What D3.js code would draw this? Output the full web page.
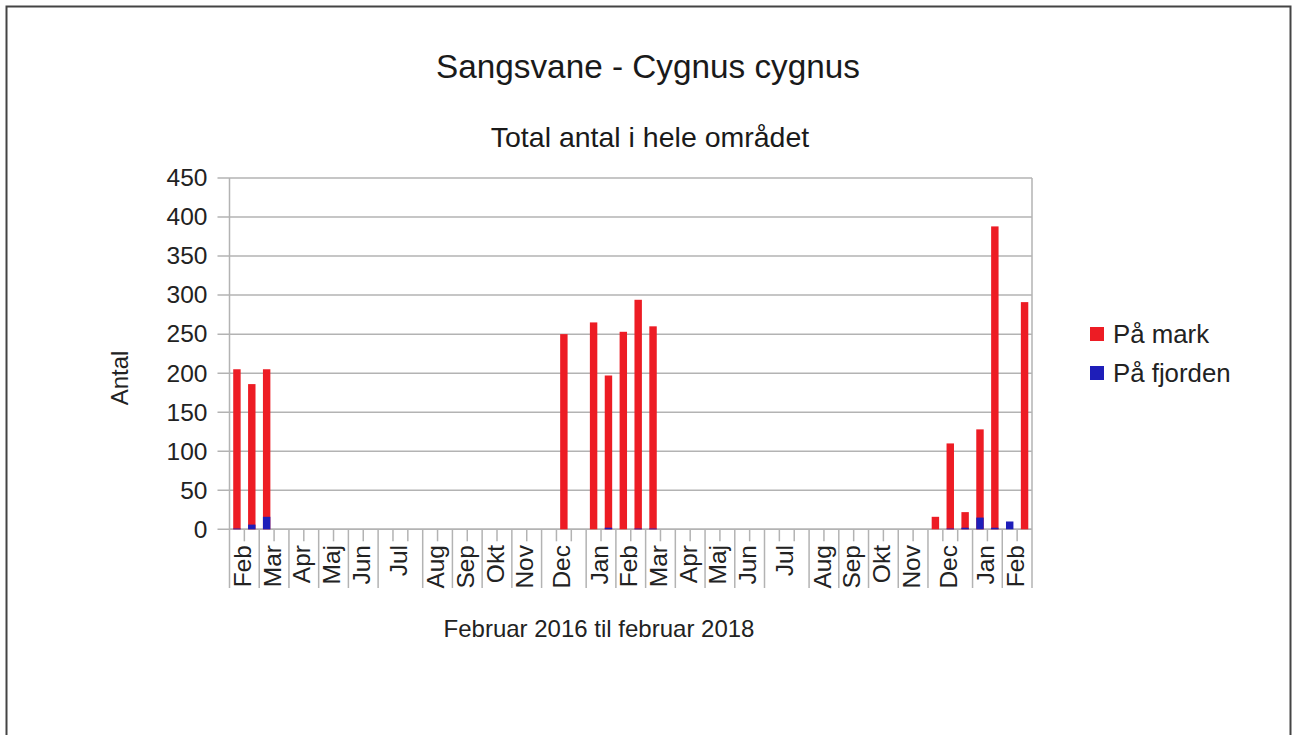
<!DOCTYPE html>
<html>
<head>
<meta charset="utf-8">
<script src="https://cdn.jsdelivr.net/npm/d3@7"></script>
<style>
  body { margin: 0; background: #fff; }
  svg { display: block; font-family: "Liberation Sans", Arial, sans-serif; }
</style>
</head>
<body>
<div id="chart"></div>
<script>
// month groups on the category axis and how many counts fall in each
const months = ["Feb", "Mar", "Apr", "Maj", "Jun", "Jul", "Aug", "Sep", "Okt", "Nov", "Dec", "Jan",
    "Feb", "Mar", "Apr", "Maj", "Jun", "Jul", "Aug", "Sep", "Okt", "Nov", "Dec", "Jan", "Feb"];
const countsPerMonth = [2, 2, 2, 2, 2, 3, 2, 2, 2, 2, 3, 2, 2, 2, 2, 2, 2, 3, 2, 2, 2, 2, 3, 2, 2];

// one value per count, in the same order
const paaMark = [205, 186, 205, 0, 0, 0, 0, 0, 0, 0, 0, 0, 0, 0, 0, 0, 0, 0, 0, 0, 0,
    0, 250, 0, 265, 197, 253, 294, 260, 0, 0, 0, 0, 0, 0, 0, 0, 0, 0, 0, 0, 0, 0, 0, 0, 0, 0,
    16, 110, 22, 128, 388, 0, 291];
const paaFjorden = [1, 6, 16, 0, 0, 0, 0, 0, 0, 0, 0, 0, 0, 0, 0, 0, 0, 0, 0, 0, 0,
    0, 0, 0, 0, 2, 0, 1, 1, 0, 0, 0, 0, 0, 0, 0, 0, 0, 0, 0, 0, 0, 0, 0, 0, 0, 0,
    0, 1, 2, 15, 2, 10, 0];

const yTicks = [0, 50, 100, 150, 200, 250, 300, 350, 400, 450];
const seriesNames = ["På mark", "På fjorden"];
const seriesColors = ["#ed1c24", "#1e1eb9"];

const width = 1292, height = 735;
const plot = { left: 229.5, right: 1032, top: 178, bottom: 529.3 };
const gridColor = "#b3b3b3";
const textColor = "#222";

const svg = d3.select("#chart").append("svg")
    .attr("width", width)
    .attr("height", height);

// page frame
svg.append("rect")
    .attr("x", 6.5).attr("y", 6.5)
    .attr("width", 1284).attr("height", 740)
    .attr("fill", "none")
    .attr("stroke", "#444")
    .attr("stroke-width", 2);

const idx = d3.range(paaMark.length);
const x = d3.scaleBand().domain(idx).range([plot.left, plot.right]).padding(0);
const y = d3.scaleLinear().domain([0, 450]).range([plot.bottom, plot.top]);

// horizontal grid
svg.append("g")
    .selectAll("line")
    .data(yTicks)
    .join("line")
    .attr("x1", plot.left - 12)
    .attr("x2", plot.right)
    .attr("y1", d => y(d))
    .attr("y2", d => y(d))
    .attr("stroke", gridColor)
    .attr("stroke-width", 1.5);

// y axis labels
const yAxis = d3.axisLeft(y).tickValues(yTicks).tickSize(0).tickPadding(22);
const gy = svg.append("g")
    .attr("transform", `translate(${plot.left},0)`)
    .call(yAxis);
gy.select(".domain").remove();
gy.selectAll("text")
    .attr("fill", textColor)
    .attr("font-size", 24.5)
    .attr("font-family", "Liberation Sans, Arial, sans-serif");

// month groups
let start = 0;
const groups = months.map((m, i) => {
    const g = { label: m, first: start, last: start + countsPerMonth[i] - 1 };
    start += countsPerMonth[i];
    return g;
});

// left and right plot edges + group separators reaching down through the labels
const sepX = [x(0)].concat(groups.map(g => x(g.last) + x.bandwidth()));
svg.append("g")
    .selectAll("line")
    .data(sepX)
    .join("line")
    .attr("x1", d => d).attr("x2", d => d)
    .attr("y1", (d, i) => (i === 0 || i === sepX.length - 1) ? plot.top : plot.bottom)
    .attr("y2", 588)
    .attr("stroke", gridColor)
    .attr("stroke-width", 1.5);

// short ticks between counts inside a month
const innerTicks = [];
groups.forEach(g => {
    for (let k = g.first + 1; k <= g.last; k++) innerTicks.push(x(k));
});
svg.append("g")
    .selectAll("line")
    .data(innerTicks)
    .join("line")
    .attr("x1", d => d).attr("x2", d => d)
    .attr("y1", plot.bottom).attr("y2", plot.bottom + 12)
    .attr("stroke", gridColor)
    .attr("stroke-width", 1.5);

// axis line along the bottom
svg.append("line")
    .attr("x1", plot.left).attr("x2", plot.right)
    .attr("y1", plot.bottom).attr("y2", plot.bottom)
    .attr("stroke", gridColor)
    .attr("stroke-width", 1.5);

// month labels
svg.append("g")
    .selectAll("text")
    .data(groups)
    .join("text")
    .attr("transform", g => {
        const cx = (x(g.first) + x(g.last) + x.bandwidth()) / 2 - 2;
        return `translate(${cx},545) rotate(-90)`;
    })
    .attr("dy", "0.35em")
    .attr("text-anchor", "end")
    .attr("font-size", 24.5)
    .attr("fill", textColor)
    .text(g => g.label);

// bars: red first, blue drawn over it
const barW = x.bandwidth() / 2;
[paaMark, paaFjorden].forEach((vals, s) => {
    svg.append("g")
        .selectAll("rect")
        .data(idx.filter(i => vals[i] > 0))
        .join("rect")
        .attr("x", i => x(i) + x.bandwidth() / 4)
        .attr("width", barW)
        .attr("y", i => y(vals[i]))
        .attr("height", i => y(0) - y(vals[i]))
        .attr("fill", seriesColors[s]);
});

// titles
svg.append("text")
    .attr("x", 648).attr("y", 78)
    .attr("text-anchor", "middle")
    .attr("font-size", 33.3)
    .attr("fill", "#1a1a1a")
    .text("Sangsvane - Cygnus cygnus");

svg.append("text")
    .attr("x", 650).attr("y", 147)
    .attr("text-anchor", "middle")
    .attr("font-size", 28.5)
    .attr("fill", "#1a1a1a")
    .text("Total antal i hele området");

svg.append("text")
    .attr("transform", "translate(120,378) rotate(-90)")
    .attr("dy", "0.35em")
    .attr("text-anchor", "middle")
    .attr("font-size", 24)
    .attr("fill", textColor)
    .text("Antal");

svg.append("text")
    .attr("x", 599).attr("y", 637)
    .attr("text-anchor", "middle")
    .attr("font-size", 24)
    .attr("fill", textColor)
    .text("Februar 2016 til februar 2018");

// legend
const legend = svg.append("g")
    .selectAll("g")
    .data(seriesNames)
    .join("g")
    .attr("transform", (d, i) => `translate(1090,${334 + i * 39})`);
legend.append("rect")
    .attr("x", 0).attr("y", -7)
    .attr("width", 14).attr("height", 14)
    .attr("fill", (d, i) => seriesColors[i]);
legend.append("text")
    .attr("x", 23)
    .attr("dy", "0.35em")
    .attr("font-size", 25.8)
    .attr("fill", textColor)
    .text(d => d);
</script>
</body>
</html>
